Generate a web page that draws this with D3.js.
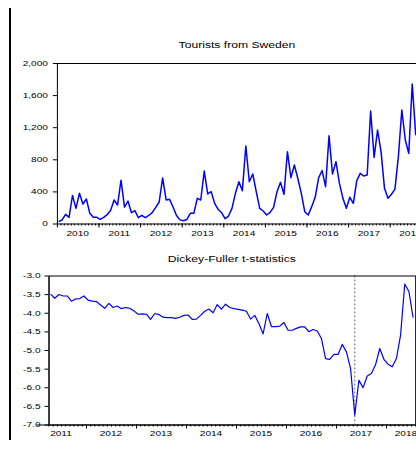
<!DOCTYPE html>
<html>
<head>
<meta charset="utf-8">
<script src="https://cdn.jsdelivr.net/npm/d3@7"></script>
<style>
  body { margin: 0; background: #fff; }
  svg { display: block; font-family: "Liberation Sans", Arial, sans-serif; }
</style>
</head>
<body>
<svg id="chart" width="416" height="451"></svg>
<script>
// monthly arrivals, Jan 2010 onwards
const touristsSweden = [
  23, 44, 114, 77, 350, 189, 376, 243, 305, 127, 77, 77,
  52, 77, 110, 165, 293, 231, 540, 205, 280, 135, 160, 72,
  102, 73, 100, 135, 201, 268, 568, 293, 301, 205, 100, 45,
  35, 50, 127, 127, 314, 293, 654, 368, 397, 251, 177, 135,
  60, 93, 189, 376, 521, 409, 966, 521, 617, 397, 189, 156,
  106, 139, 201, 397, 513, 363, 895, 571, 729, 560, 376, 147,
  106, 210, 326, 570, 660, 459, 1092, 617, 771, 500, 314, 189,
  326, 251, 534, 625, 592, 604, 1402, 824, 1165, 895, 438, 314,
  364, 426, 833, 1414, 1040, 874, 1738, 1100
];
const touristsStart = 2010;          // first month = Jan 2010
const touristsYears = [2010, 2011, 2012, 2013, 2014, 2015, 2016, 2017, 2018];
const touristsTicks = [0, 400, 800, 1200, 1600, 2000];

// Dickey-Fuller t-statistics, Apr 2011 onwards
const dfStats = [
  -3.50, -3.61, -3.51, -3.55, -3.55, -3.69, -3.63, -3.62, -3.55,
  -3.66, -3.69, -3.70, -3.79, -3.88, -3.75, -3.86, -3.82, -3.89, -3.86, -3.88, -3.95,
  -4.04, -4.03, -4.04, -4.18, -4.02, -4.05, -4.12, -4.13, -4.13, -4.15, -4.12, -4.07,
  -4.06, -4.18, -4.17, -4.07, -3.96, -3.90, -4.00, -3.78, -3.90, -3.77, -3.86, -3.89,
  -3.91, -3.93, -3.96, -4.17, -4.07, -4.29, -4.57, -4.02, -4.37, -4.37, -4.36, -4.26,
  -4.47, -4.47, -4.42, -4.38, -4.38, -4.51, -4.45, -4.49, -4.69, -5.23, -5.25, -5.12,
  -5.12, -4.85, -5.05, -5.50, -6.75, -5.81, -6.01, -5.70, -5.63, -5.39, -4.96, -5.25,
  -5.38, -5.45, -5.23, -4.60, -3.23, -3.43, -4.13
];
const dfStart = 2011 + 3 / 12;       // first month = Apr 2011
const dfYears = [2011, 2012, 2013, 2014, 2015, 2016, 2017, 2018];
const dfTicks = [-3.0, -3.5, -4.0, -4.5, -5.0, -5.5, -6.0, -6.5, -7.0];
const dfBreak = 73;                  // marked month (May 2017)

const SX = 1.35;  // the picture's text is wide, stretch it sideways
const svg = d3.select("#chart");

function stretchText(sel) {
  sel.each(function () {
    const t = d3.select(this);
    const x = +t.attr("x") || 0;
    t.attr("x", x / SX).attr("transform", `scale(${SX},1)`);
  });
}

function addLabel(x, y, txt, size, anchor) {
  return svg.append("text")
    .attr("x", x / SX).attr("y", y)
    .attr("transform", `scale(${SX},1)`)
    .attr("text-anchor", anchor || "middle")
    .attr("font-size", size)
    .attr("fill", "#000")
    .text(txt);
}

// left margin rule
svg.append("line")
  .attr("x1", 10).attr("x2", 10).attr("y1", 8).attr("y2", 440)
  .attr("stroke", "#000").attr("stroke-width", 2);

// ---------- top: Tourists from Sweden ----------
const xTop = d3.scaleLinear().domain([2010, 2019]).range([56.9, 431.3]);
const yTop = d3.scaleLinear().domain([0, 2000]).range([223.5, 63]);

addLabel(237, 48, "Tourists from Sweden", 9);

svg.append("line")
  .attr("x1", xTop(2010)).attr("x2", 416)
  .attr("y1", yTop(2000) + 0.5).attr("y2", yTop(2000) + 0.5)
  .attr("stroke", "#000");

const yAxisTop = svg.append("g")
  .attr("transform", `translate(${xTop(2010)},0)`)
  .call(d3.axisLeft(yTop).tickValues(touristsTicks).tickSize(4).tickPadding(5)
    .tickSizeOuter(0).tickFormat(d3.format(",")));
yAxisTop.selectAll("text").attr("font-size", 7.5).attr("font-family", null).call(stretchText);

const monthsTop = d3.range(2010 * 12, 2019 * 12 + 1).map(k => k / 12);
svg.append("g")
  .attr("transform", `translate(0,${yTop(0)})`)
  .call(d3.axisBottom(xTop).tickValues(monthsTop).tickSize(2).tickSizeOuter(0).tickFormat(""));
svg.append("g")
  .attr("transform", `translate(0,${yTop(0)})`)
  .call(d3.axisBottom(xTop).tickValues(touristsYears).tickSize(4).tickFormat(""))
  .select(".domain").remove();

touristsYears.forEach(yr => addLabel(xTop(yr + 0.5), 236, yr, 7.5));

const lineTop = d3.line()
  .x((d, i) => xTop(touristsStart + (i + 0.5) / 12))
  .y(d => yTop(d));
svg.append("path").datum(touristsSweden)
  .attr("d", lineTop)
  .attr("fill", "none").attr("stroke", "#0000ff").attr("stroke-width", 1.5)
  .attr("stroke-linejoin", "round");

// ---------- bottom: Dickey-Fuller t-statistics ----------
const xDf = d3.scaleLinear().domain([2011, 2019]).range([36, 436]);
const yDf = d3.scaleLinear().domain([-7, -3]).range([424.5, 275.5]);
const dfLeft = xDf(dfStart), dfRight = xDf(dfStart + dfStats.length / 12);

addLabel((dfLeft + dfRight) / 2, 262, "Dickey-Fuller t-statistics", 9);

const yAxisDf = svg.append("g")
  .attr("transform", `translate(${dfLeft},0)`)
  .call(d3.axisLeft(yDf).tickValues(dfTicks).tickSize(4).tickPadding(4)
    .tickSizeOuter(0).tickFormat(d3.format(".1f")));
yAxisDf.selectAll("text").attr("font-size", 7.5).attr("font-family", null)
  .text(d => d3.format(".1f")(d).replace("\u2212", "-")).call(stretchText);

const monthsDf = d3.range(0, dfStats.length + 1).map(k => dfStart + k / 12);
svg.append("g")
  .attr("transform", `translate(0,${yDf(-7)})`)
  .call(d3.axisBottom(xDf).tickValues(monthsDf).tickSize(2).tickSizeOuter(0).tickFormat(""));
svg.append("g")
  .attr("transform", `translate(0,${yDf(-7)})`)
  .call(d3.axisBottom(xDf).tickValues(dfYears.slice(1)).tickSize(4).tickFormat(""))
  .select(".domain").remove();

dfYears.forEach(yr => {
  const t = addLabel(xDf(yr + 0.5), 436, yr, 7.5);
  const w = t.node().getComputedTextLength() * SX;
  const cx = Math.min(xDf(yr + 0.5), dfRight + 2 - w / 2);
  t.attr("x", cx / SX);
});

const xBreak = xDf(dfStart + (dfBreak + 0.5) / 12);
svg.append("line")
  .attr("x1", xBreak).attr("x2", xBreak)
  .attr("y1", yDf(-3)).attr("y2", yDf(-7))
  .attr("stroke", "#666").attr("stroke-dasharray", "2,2");

const lineDf = d3.line()
  .x((d, i) => xDf(dfStart + (i + 0.5) / 12))
  .y(d => yDf(d));
svg.append("path").datum(dfStats)
  .attr("d", lineDf)
  .attr("fill", "none").attr("stroke", "#0000ff").attr("stroke-width", 1.2)
  .attr("stroke-linejoin", "round");

svg.append("rect")
  .attr("x", dfLeft + 0.5).attr("y", yDf(-3) + 0.5)
  .attr("width", dfRight - dfLeft).attr("height", yDf(-7) - yDf(-3))
  .attr("fill", "none").attr("stroke", "#000");
</script>
</body>
</html>
